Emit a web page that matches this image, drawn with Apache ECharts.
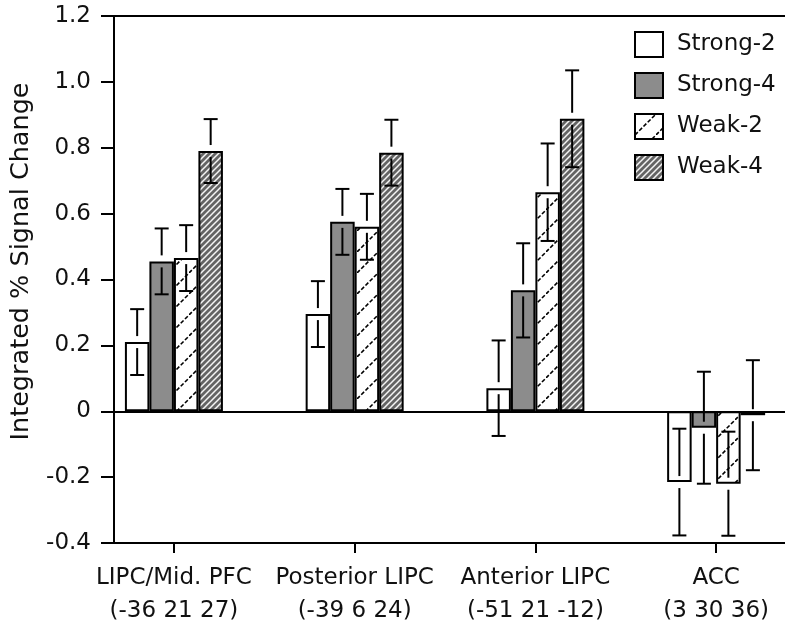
<!DOCTYPE html>
<html>
<head>
<meta charset="utf-8">
<script src="https://cdn.jsdelivr.net/npm/echarts@6/dist/echarts.min.js"></script>
<style>
html,body{margin:0;padding:0;background:#fff;}
#chart{width:785px;height:628px;}
</style>
</head>
<body>
<div id="chart"></div>
<script>
// ---- data ----
const categories = ['LIPC/Mid. PFC', 'Posterior LIPC', 'Anterior LIPC', 'ACC'];
const coords = ['(-36 21 27)', '(-39 6 24)', '(-51 21 -12)', '(3 30 36)'];
const seriesNames = ['Strong-2', 'Strong-4', 'Weak-2', 'Weak-4'];
const strong2 = [0.21, 0.295, 0.07, -0.215];
const strong2Err = [0.10, 0.10, 0.145, 0.162];
const strong4 = [0.455, 0.575, 0.367, -0.05];
const strong4Err = [0.10, 0.10, 0.143, 0.17];
const weak2 = [0.465, 0.56, 0.665, -0.22];
const weak2Err = [0.10, 0.10, 0.148, 0.158];
const weak4 = [0.79, 0.785, 0.888, -0.012];
const weak4Err = [0.097, 0.10, 0.147, 0.167];

// ---- style ----
const FONT = 'DejaVu Sans';
const BAR_W = 24.5;
const GAP = 6;
const CAP = 14;

function hatchWeak2() {
  const s = 21, c = document.createElement('canvas');
  c.width = s; c.height = s;
  const g = c.getContext('2d');
  g.fillStyle = '#fff'; g.fillRect(0, 0, s, s);
  g.strokeStyle = '#000'; g.lineWidth = 1.6; g.setLineDash([4, 2]);
  g.beginPath(); g.moveTo(0, s); g.lineTo(s, 0); g.stroke();
  return c;
}
function hatchWeak4() {
  const s = 6, c = document.createElement('canvas');
  c.width = s; c.height = s;
  const g = c.getContext('2d');
  g.fillStyle = '#646464'; g.fillRect(0, 0, s, s);
  g.strokeStyle = '#f4f4f4'; g.lineWidth = 1.5;
  g.beginPath();
  g.moveTo(-1, s + 1); g.lineTo(s + 1, -1);
  g.moveTo(-1, 1); g.lineTo(1, -1);
  g.moveTo(s - 1, s + 1); g.lineTo(s + 1, s - 1);
  g.stroke();
  return c;
}

const fills = [
  '#ffffff',
  '#8c8c8c',
  { image: hatchWeak2(), repeat: 'repeat' },
  { image: hatchWeak4(), repeat: 'repeat' }
];
const values = [strong2, strong4, weak2, weak4];
const errs = [strong2Err, strong4Err, weak2Err, weak4Err];

const chart = echarts.init(document.getElementById('chart'), null, { renderer: 'canvas' });

const barSeries = seriesNames.map((name, s) => ({
  name: name,
  type: 'bar',
  barWidth: BAR_W,
  barGap: '0%',
  data: values[s].map((v, i) => [i, v]),
  itemStyle: { color: fills[s], borderColor: '#000', borderWidth: 2 },
  z: 2,
  markLine: s === 0 ? {
    silent: true, symbol: 'none', label: { show: false },
    lineStyle: { color: '#000', width: 2, type: 'solid' },
    data: [{ yAxis: 0 }]
  } : undefined
}));

const errSeries = seriesNames.map((name, s) => ({
  name: 'err-' + name,
  type: 'custom',
  z: 5,
  clip: false,
  data: values[s].map((v, i) => [i, v, errs[s][i]]),
  encode: { x: 0, y: 1 },
  renderItem: function (params, api) {
    const x = api.value(0), v = api.value(1), e = api.value(2);
    const end = api.coord([x, v]);
    const px = end[0] + (s - 1.5) * BAR_W;
    const yTop = api.coord([x, v + e])[1];
    const yBot = api.coord([x, v - e])[1];
    const ey = end[1];
    const st = { stroke: '#000', lineWidth: 2 };
    const kids = [];
    const seg = (y1, y2) => kids.push({ type: 'line', shape: { x1: px, y1: y1, x2: px, y2: y2 }, style: st });
    if (ey - GAP > yTop) seg(ey - GAP, yTop);
    if (ey + GAP < yBot) seg(ey + GAP, yBot);
    kids.push({ type: 'line', shape: { x1: px - CAP / 2, y1: yTop, x2: px + CAP / 2, y2: yTop }, style: st });
    kids.push({ type: 'line', shape: { x1: px - CAP / 2, y1: yBot, x2: px + CAP / 2, y2: yBot }, style: st });
    return { type: 'group', children: kids };
  }
}));

const xMin = -0.3315, xMax = 3.381;

chart.setOption({
  animation: false,
  backgroundColor: '#fff',
  textStyle: { fontFamily: FONT },
  grid: { left: 113, right: 0, top: 16, bottom: 81, containLabel: false },
  legend: {
    data: seriesNames,
    orient: 'vertical',
    left: 634, top: 31,
    padding: 0,
    itemWidth: 28, itemHeight: 25, itemGap: 14,
    icon: 'rect',
    itemStyle: { borderColor: '#000', borderWidth: 2 },
    textStyle: { fontFamily: FONT, fontSize: 23, color: '#111', padding: [0, 0, 0, 9] },
    selectedMode: false
  },
  xAxis: [{
    type: 'value', min: xMin, max: xMax,
    position: 'bottom',
    splitLine: { show: false },
    axisLine: { show: true, onZero: false, lineStyle: { color: '#000', width: 2 } },
    axisTick: { show: true, customValues: [0, 1, 2, 3], length: 10, inside: false, lineStyle: { color: '#000', width: 2 } },
    axisLabel: {
      show: true, customValues: [0, 1, 2, 3], margin: 19,
      fontFamily: FONT, fontSize: 23, color: '#111', lineHeight: 33, align: 'center',
      formatter: function (val) {
        const i = Math.round(val);
        return categories[i] + '\n' + coords[i];
      }
    }
  }, {
    type: 'value', min: xMin, max: xMax,
    position: 'top',
    splitLine: { show: false },
    axisLine: { show: true, onZero: false, lineStyle: { color: '#000', width: 2 } },
    axisTick: { show: false },
    axisLabel: { show: false }
  }],
  yAxis: {
    type: 'value', min: -0.4, max: 1.2, interval: 0.2,
    splitLine: { show: false },
    axisLine: { show: true, onZero: false, lineStyle: { color: '#000', width: 2 } },
    axisTick: { show: true, length: 13, lineStyle: { color: '#000', width: 2 } },
    axisLabel: {
      margin: 23, fontFamily: FONT, fontSize: 23, color: '#111',
      formatter: function (v) { return Math.abs(v) < 1e-9 ? '0' : v.toFixed(1); }
    },
    name: 'Integrated % Signal Change',
    nameLocation: 'middle',
    nameRotate: 90,
    nameGap: 80,
    nameTextStyle: { fontFamily: FONT, fontSize: 25.5, color: '#111', padding: [0, 0, 0, 36] }
  },
  series: barSeries.concat(errSeries)
});
</script>
</body>
</html>
